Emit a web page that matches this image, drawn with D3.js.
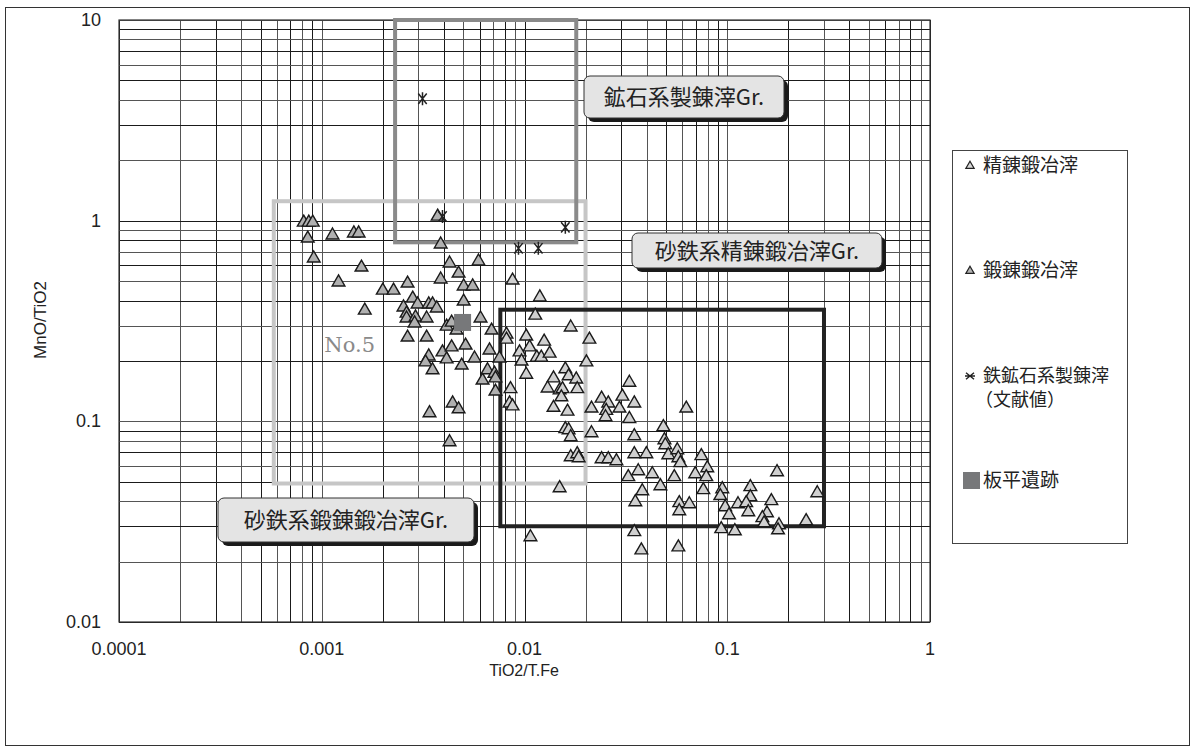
<!DOCTYPE html>
<html>
<head>
<meta charset="utf-8">
<script src="https://cdn.jsdelivr.net/npm/d3@7"></script>
<style>
  body { margin: 0; background: #fff; }
  svg text { font-family: "Liberation Sans", Arial, sans-serif; fill: #222; }
  svg text.jp { font-family: "Noto Sans CJK JP", sans-serif; }
  svg text.serif { font-family: "DejaVu Serif", "Liberation Serif", serif; fill: #8a8a8a; }
</style>
</head>
<body>
<div id="chart"></div>
<script>
// 鍛錬鍛冶滓 [TiO2/T.Fe, MnO/TiO2]
var tanrenData = [
  [0.000815,0.98],[0.000863,0.98],[0.000903,0.98],[0.000853,0.816],[0.000913,0.649],
  [0.00113,0.845],[0.00144,0.865],[0.00152,0.865],[0.00157,0.585],[0.00121,0.493],
  [0.00163,0.357],[0.0020,0.449],[0.00226,0.449],[0.00265,0.487],[0.00281,0.41],
  [0.00253,0.37],[0.00297,0.383],[0.00337,0.383],[0.00352,0.383],[0.00369,0.366],
  [0.00262,0.345],[0.00262,0.326],[0.0029,0.33],[0.00287,0.308],[0.00329,0.326],
  [0.00265,0.262],[0.00329,0.262],[0.00386,0.762],[0.00427,0.613],[0.00593,0.627],
  [0.00386,0.51],[0.00473,0.546],[0.00501,0.471],[0.00555,0.471],[0.00501,0.396],
  [0.00607,0.326],[0.00413,0.297],[0.00437,0.311],[0.00462,0.284],[0.00688,0.284],
  [0.00394,0.221],[0.00437,0.234],[0.00512,0.239],[0.00672,0.226],[0.00567,0.206],
  [0.00337,0.211],[0.00325,0.197],[0.00352,0.18],[0.00413,0.204],[0.0049,0.19],
  [0.00621,0.16],[0.00657,0.18],[0.00711,0.173],[0.00719,0.164],[0.00719,0.141],
  [0.00442,0.123],[0.00473,0.115],[0.0034,0.11],[0.00427,0.0788],[0.00373,1.05],
  [0.00753,0.206]
];
// 精錬鍛冶滓
var seirenData = [
  [0.00873,0.504],[0.0119,0.415],[0.0113,0.337],[0.0169,0.294],[0.0209,0.256],
  [0.00815,0.271],[0.00815,0.256],[0.0102,0.265],[0.0106,0.234],[0.0125,0.25],
  [0.00945,0.221],[0.00967,0.199],[0.0115,0.208],[0.0121,0.208],[0.0133,0.218],
  [0.0102,0.171],[0.0159,0.182],[0.0165,0.168],[0.018,0.162],[0.0139,0.164],
  [0.013,0.146],[0.0149,0.143],[0.0154,0.145],[0.0152,0.132],[0.0182,0.145],
  [0.00853,0.145],[0.00844,0.123],[0.00873,0.119],[0.0139,0.117],[0.0163,0.112],
  [0.0202,0.197],[0.0214,0.116],[0.0214,0.0874],[0.0159,0.0916],[0.0165,0.0905],
  [0.0169,0.0835],[0.0169,0.0664],[0.0182,0.0687],[0.0185,0.0656],[0.0149,0.0465],
  [0.0107,0.0265],[0.024,0.13],[0.0259,0.123],[0.0253,0.113],[0.0251,0.105],
  [0.0294,0.116],[0.0304,0.133],[0.0329,0.156],[0.0348,0.123],[0.0329,0.103],
  [0.0628,0.116],[0.0348,0.0845],[0.0484,0.0937],[0.049,0.0807],[0.0495,0.0762],
  [0.0512,0.0679],[0.0567,0.0719],[0.0574,0.0656],[0.0587,0.062],[0.0399,0.0687],
  [0.0348,0.0687],[0.024,0.0649],[0.0259,0.0649],[0.0284,0.0634],[0.0325,0.0528],
  [0.0364,0.0565],[0.0427,0.0546],[0.0548,0.0528],[0.0468,0.0476],[0.0381,0.0449],
  [0.0352,0.0396],[0.058,0.0392],[0.058,0.0357],[0.065,0.0387],[0.0695,0.0546],
  [0.0745,0.0672],[0.0797,0.0585],[0.0788,0.0528],[0.0762,0.0455],[0.0945,0.046],
  [0.0924,0.0425],[0.0977,0.0374],[0.102,0.0341],[0.113,0.0387],[0.0934,0.0291],
  [0.109,0.0284],[0.13,0.0471],[0.13,0.042],[0.124,0.0392],[0.127,0.0353],
  [0.165,0.0401],[0.176,0.0559],[0.157,0.0349],[0.149,0.033],[0.152,0.0311],
  [0.18,0.0304],[0.178,0.0287],[0.245,0.0319],[0.278,0.0439],[0.0348,0.0281],
  [0.0377,0.0228],[0.0574,0.0236]
];
// 鉄鉱石系製錬滓（文献値）
var oreData = [[0.00314,4.05],[0.00394,1.05],[0.0159,0.926],[0.00934,0.728],[0.0117,0.728]];
// 板平遺跡
var siteData = [[0.00495,0.311]];

var xTickValues = [0.0001, 0.001, 0.01, 0.1, 1];
var xTickLabels = ["0.0001", "0.001", "0.01", "0.1", "1"];
var yTickValues = [0.01, 0.1, 1, 10];
var yTickLabels = ["0.01", "0.1", "1", "10"];

// group areas [x0, x1, y0, y1]
var oreArea = [0.0023, 0.018, 0.78, 10];
var tanrenArea = [0.00058, 0.02, 0.049, 1.25];
var seirenArea = [0.0076, 0.3, 0.03, 0.36];

var width = 1197, height = 752;
var margin = {left: 119, top: 20, right: 267, bottom: 130};

var svg = d3.select("#chart").append("svg")
  .attr("width", width).attr("height", height);

svg.append("rect").attr("x", 5.5).attr("y", 7.5).attr("width", 1184).attr("height", 738)
  .attr("fill", "#fff").attr("stroke", "#333").attr("stroke-width", 1);

var x = d3.scaleLog().domain([0.0001, 1]).range([margin.left, width - margin.right]);
var y = d3.scaleLog().domain([0.01, 10]).range([height - margin.bottom, margin.top]);

var g = svg.append("g");

// grid
var xGrid = x.ticks();
var yGrid = y.ticks();
g.selectAll(".xg").data(xGrid).enter().append("line")
  .attr("x1", d => Math.round(x(d)) + 0.5).attr("x2", d => Math.round(x(d)) + 0.5)
  .attr("y1", y(10)).attr("y2", y(0.01))
  .attr("stroke", (d, i) => i % 2 ? "#555" : "#1a1a1a").attr("stroke-width", 1);
g.selectAll(".yg").data(yGrid).enter().append("line")
  .attr("y1", d => Math.round(y(d)) + 0.5).attr("y2", d => Math.round(y(d)) + 0.5)
  .attr("x1", x(0.0001)).attr("x2", x(1))
  .attr("stroke", (d, i) => i % 2 ? "#555" : "#1a1a1a").attr("stroke-width", 1);

g.append("rect").attr("x", x(0.0001)).attr("y", y(10))
  .attr("width", x(1) - x(0.0001)).attr("height", y(0.01) - y(10))
  .attr("fill", "none").attr("stroke", "#333").attr("stroke-width", 1.2);

// tick labels
svg.selectAll(".xt").data(xTickValues).enter().append("text")
  .attr("x", d => x(d)).attr("y", y(0.01) + 33)
  .attr("text-anchor", "middle").attr("font-size", 18)
  .text((d, i) => xTickLabels[i]);
svg.selectAll(".yt").data(yTickValues).enter().append("text")
  .attr("x", 101).attr("y", d => y(d) + 6)
  .attr("text-anchor", "end").attr("font-size", 18)
  .text((d, i) => yTickLabels[i]);

svg.append("text").attr("x", 524).attr("y", 676).attr("text-anchor", "middle")
  .attr("font-size", 16).text("TiO2/T.Fe");
svg.append("text").attr("transform", "translate(46,320) rotate(-90)")
  .attr("text-anchor", "middle").attr("font-size", 17).text("MnO/TiO2");

// group areas
function area(a, color) {
  g.append("rect").attr("x", x(a[0])).attr("y", y(a[3]))
    .attr("width", x(a[1]) - x(a[0])).attr("height", y(a[2]) - y(a[3]))
    .attr("fill", "none").attr("stroke", color).attr("stroke-width", 4);
}
area(tanrenArea, "#c6c6c6");
area(oreArea, "#8a8a8a");
area(seirenArea, "#222");

// labels with shadow
function labelBox(bx, by, bw, bh, txt) {
  svg.append("rect").attr("x", bx + 4).attr("y", by + 4).attr("width", bw).attr("height", bh)
    .attr("rx", 6).attr("fill", "#1a1a1a");
  svg.append("rect").attr("x", bx).attr("y", by).attr("width", bw).attr("height", bh)
    .attr("rx", 6).attr("fill", "#e4e4e4").attr("stroke", "#333").attr("stroke-width", 1);
  svg.append("text").attr("class", "jp").attr("x", bx + bw / 2).attr("y", by + bh / 2 + 8)
    .attr("text-anchor", "middle").attr("font-size", 22).text(txt);
}
labelBox(584, 76, 200, 42, "鉱石系製錬滓Gr.");
labelBox(632, 233, 250, 35, "砂鉄系精錬鍛冶滓Gr.");
labelBox(218, 498, 256, 44, "砂鉄系鍛錬鍛冶滓Gr.");

svg.append("text").attr("class", "serif").attr("x", x(0.00103)).attr("y", y(0.222))
  .attr("font-size", 21).text("No.5");

// marks
var tri = d3.symbol(d3.symbolTriangle, 70);
g.selectAll(".tr").data(tanrenData).enter().append("path")
  .attr("d", tri).attr("transform", d => "translate(" + x(d[0]) + "," + y(d[1]) + ")")
  .attr("fill", "#b0b0b0").attr("stroke", "#1a1a1a").attr("stroke-width", 1.4);
g.selectAll(".se").data(seirenData).enter().append("path")
  .attr("d", tri).attr("transform", d => "translate(" + x(d[0]) + "," + y(d[1]) + ")")
  .attr("fill", "#d0d0d0").attr("stroke", "#1a1a1a").attr("stroke-width", 1.4);

function star(s) {
  return "M0," + (-s) + "L0," + s +
    "M" + (-s * 0.65) + "," + (-s * 0.8) + "L" + (s * 0.65) + "," + (s * 0.8) +
    "M" + (-s * 0.65) + "," + (s * 0.8) + "L" + (s * 0.65) + "," + (-s * 0.8);
}
g.selectAll(".ore").data(oreData).enter().append("path")
  .attr("d", star(6.5)).attr("transform", d => "translate(" + x(d[0]) + "," + y(d[1]) + ")")
  .attr("fill", "none").attr("stroke", "#222").attr("stroke-width", 1.5);

g.selectAll(".site").data(siteData).enter().append("rect")
  .attr("x", d => x(d[0]) - 8.5).attr("y", d => y(d[1]) - 8.5)
  .attr("width", 17).attr("height", 17).attr("fill", "#77787a");

// legend
var lg = svg.append("g");
lg.append("rect").attr("x", 952.5).attr("y", 150.5).attr("width", 175).attr("height", 393)
  .attr("fill", "#fff").attr("stroke", "#444").attr("stroke-width", 1);
var smallTri = d3.symbol(d3.symbolTriangle, 30);
lg.append("path").attr("d", smallTri).attr("transform", "translate(970,166)")
  .attr("fill", "#d8d8d8").attr("stroke", "#222").attr("stroke-width", 1.2);
lg.append("text").attr("class", "jp").attr("x", 983).attr("y", 172).attr("font-size", 19).text("精錬鍛冶滓");
lg.append("path").attr("d", smallTri).attr("transform", "translate(970,271)")
  .attr("fill", "#b4b4b4").attr("stroke", "#222").attr("stroke-width", 1.2);
lg.append("text").attr("class", "jp").attr("x", 983).attr("y", 277).attr("font-size", 19).text("鍛錬鍛冶滓");
lg.append("path").attr("d", star(5)).attr("transform", "translate(970,376) rotate(90)")
  .attr("fill", "none").attr("stroke", "#222").attr("stroke-width", 1.4);
lg.append("text").attr("class", "jp").attr("x", 983).attr("y", 382).attr("font-size", 18).text("鉄鉱石系製錬滓");
lg.append("text").attr("class", "jp").attr("x", 975).attr("y", 406).attr("font-size", 18).text("（文献値）");
lg.append("rect").attr("x", 963).attr("y", 472).attr("width", 17).attr("height", 17).attr("fill", "#77787a");
lg.append("text").attr("class", "jp").attr("x", 983).attr("y", 487).attr("font-size", 19).text("板平遺跡");
</script>
</body>
</html>
